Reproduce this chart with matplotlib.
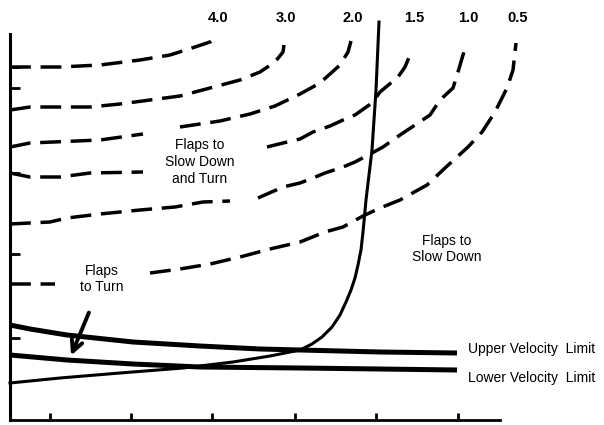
import numpy as np
import matplotlib
matplotlib.use("Agg")
import matplotlib.pyplot as plt

plt.rcParams["font.family"] = ["Liberation Sans", "DejaVu Sans"]

nan = np.nan

# dashed contour curves (x, y in chart units, y grows downward)
contour_labels = ["4.0", "3.0", "2.0", "1.5", "1.0", "0.5"]
c40_x = [10, 60, 100, 140, 170, 195, 210, 216]
c40_y = [67, 67, 65, 60, 55, 47, 42, 37]
c30_x = [10, 30, 90, 120, 150, 180, 210, 240, 260, 275, 283, 284]
c30_y = [110, 107, 107, 104, 100, 96, 88, 80, 72, 62, 52, 45]
c20_x = [10, 30, 100, 143, nan, 180, 220, 250, 275, 300, 320, 340, 348, 351]
c20_y = [147, 143, 140, 134, nan, 127, 121, 114, 106, 94, 83, 65, 52, 41]
c15_x = [10, 30, 60, 90, 143, nan, 267, 283, 300, 313, 330, 343, 355, 372, 380, 398, 405, 412]
c15_y = [173, 177, 177, 173, 172, nan, 147, 143, 139, 132, 126, 120, 115, 103, 92, 77, 67, 50]
c10_x = [10, 50, 67, 100, 140, 175, 203, 230, nan, 258, 283, 300, 313, 325, 343, 355, 372,
         383, 400, 412, 430, 440, 453, 458, 463, 466]
c10_y = [224, 222, 218, 214, 210, 207, 202, 201, nan, 198, 187, 183, 178, 173, 167, 162, 153,
         147, 135, 127, 115, 100, 88, 72, 55, 45]
c05_x = [10, 55, nan, 150, 180, 210, 240, 270, 300, 325, 343, 363, 380, 400, 427, 445, 468,
         482, 495, 507, 513, 516]
c05_y = [284, 284, nan, 273, 269, 264, 257, 249, 242, 232, 227, 216, 208, 200, 185, 168, 147,
         132, 112, 88, 70, 43]

# solid boundary curve
bound_x = [10, 60, 120, 183, 233, 270, 300, 312, 322, 332, 340, 346, 351, 355, 358, 361,
           363, 366, 372, 376, 379]
bound_y = [383, 378, 373, 368, 362, 356, 350, 344, 337, 327, 315, 302, 290, 278, 265, 250,
           232, 200, 150, 90, 22]

# velocity limits
upper_x = [10, 30, 67, 133, 200, 260, 300, 380, 457]
upper_y = [325, 329, 335, 342, 346, 349, 350, 352, 353]
lower_x = [10, 67, 133, 200, 300, 380, 457]
lower_y = [355, 360, 364, 367, 368, 369, 370]

x_ticks = [50, 131, 212, 295, 376, 458]
y_ticks = [67, 88, 173, 254, 338]

fig = plt.figure(figsize=(6.04, 4.25), dpi=100)
ax = fig.add_axes([10 / 604, 5 / 425, 490 / 604, 386 / 425])
ax.set_xlim(10, 500)
ax.set_ylim(420, 34)

contours = [(c40_x, c40_y), (c30_x, c30_y), (c20_x, c20_y),
            (c15_x, c15_y), (c10_x, c10_y), (c05_x, c05_y)]
for (cx, cy), lab in zip(contours, contour_labels):
    ax.plot(cx, cy, color="black", lw=2.5, dashes=(6, 2.8), solid_capstyle="butt",
            clip_on=False)
    ax.text(cx[-1] + 2, 18, lab, ha="center", va="center", fontsize=10.5,
            fontweight="bold", clip_on=False)

ax.plot(bound_x, bound_y, color="black", lw=2.2, clip_on=False)
ax.plot(upper_x, upper_y, color="black", lw=3.6, solid_capstyle="butt")
ax.plot(lower_x, lower_y, color="black", lw=3.6, solid_capstyle="butt")

ax.text(468, 349, "Upper Velocity  Limit", ha="left", va="center", fontsize=10, clip_on=False)
ax.text(468, 378, "Lower Velocity  Limit", ha="left", va="center", fontsize=10, clip_on=False)

ax.text(200, 162, "Flaps to\nSlow Down\nand Turn", ha="center", va="center", fontsize=10,
        linespacing=1.25)
ax.text(447, 249, "Flaps to\nSlow Down", ha="center", va="center", fontsize=10,
        linespacing=1.25)
ax.text(102, 279, "Flaps\nto Turn", ha="center", va="center", fontsize=10,
        linespacing=1.25)
ax.annotate("", xy=(70, 358), xytext=(90, 310),
            arrowprops=dict(arrowstyle="->", lw=2.8, color="black", mutation_scale=20))

for side in ["top", "right"]:
    ax.spines[side].set_visible(False)
ax.spines["left"].set_linewidth(2.2)
ax.spines["bottom"].set_linewidth(2.0)
ax.set_xticks(x_ticks)
ax.set_yticks(y_ticks)
ax.tick_params(direction="in", length=7, width=2, labelbottom=False, labelleft=False)
ax.tick_params(axis="x", length=5)

fig.savefig("out.png", dpi=100)
